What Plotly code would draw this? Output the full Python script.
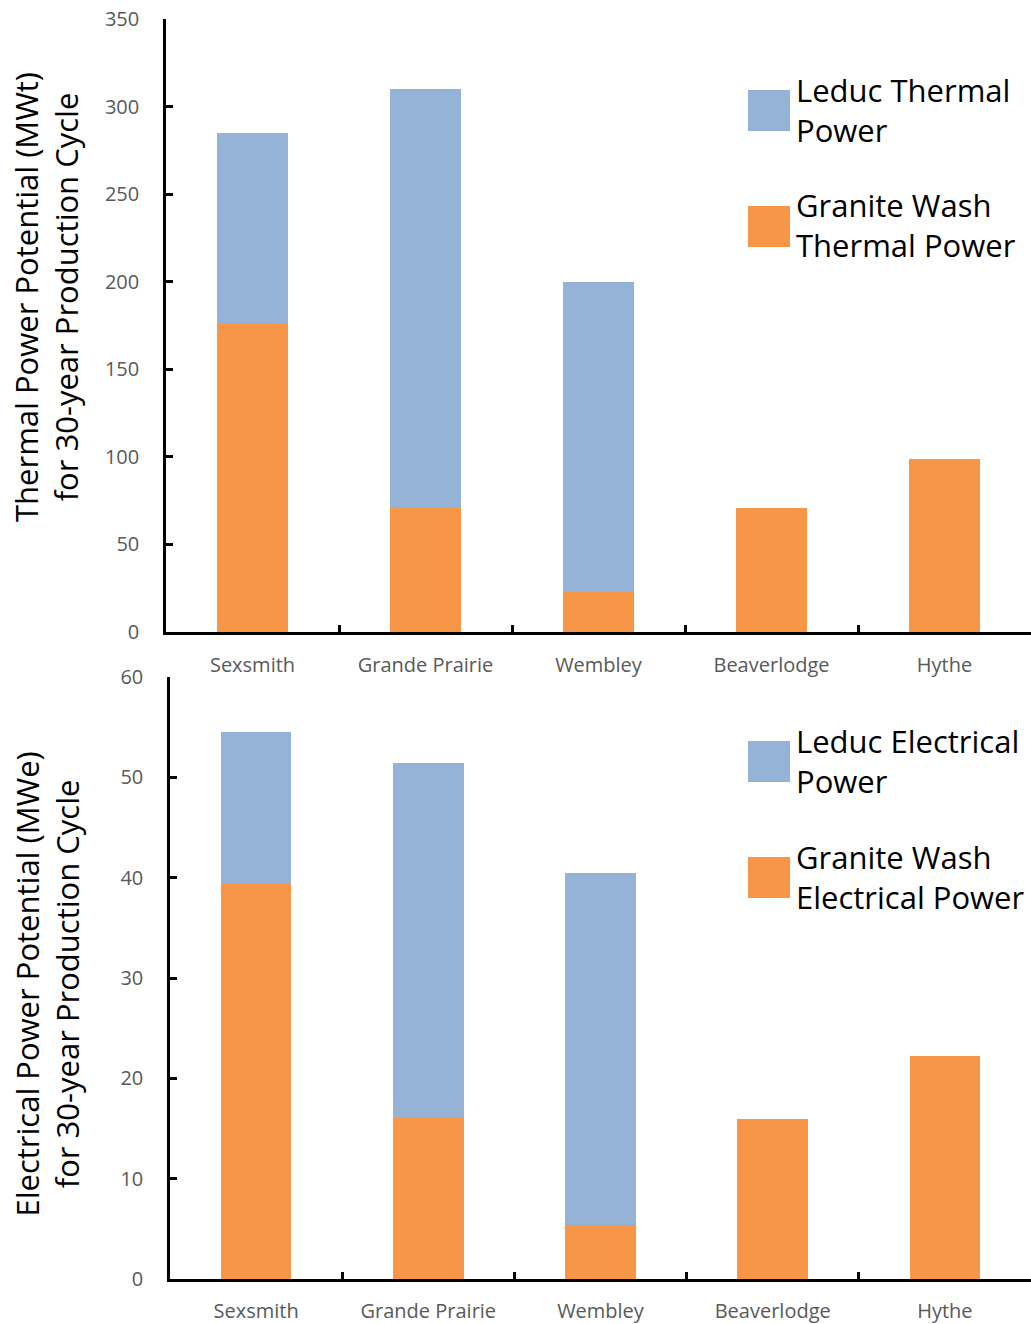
import plotly.graph_objects as go

categories = ["Sexsmith", "Grande Prairie", "Wembley", "Beaverlodge", "Hythe"]
granite_thermal = [176, 71, 23, 71, 99]
leduc_thermal = [109, 239, 177, 0, 0]
granite_electrical = [39.5, 16.0, 5.4, 15.9, 22.2]
leduc_electrical = [15.0, 35.4, 35.1, 0, 0]
thermal_ticks = [0, 50, 100, 150, 200, 250, 300, 350]
electrical_ticks = [0, 10, 20, 30, 40, 50, 60]

BLUE = "#95B3D7"
ORANGE = "#F79646"
FONT = "Open Sans"
W, H = 1031, 1324

fig = go.Figure()
fig.add_trace(go.Bar(x=categories, y=granite_thermal, name="Granite Wash Thermal Power",
                     marker=dict(color=ORANGE, line=dict(width=0)), xaxis="x", yaxis="y"))
fig.add_trace(go.Bar(x=categories, y=leduc_thermal, name="Leduc Thermal Power",
                     marker=dict(color=BLUE, line=dict(width=0)), xaxis="x", yaxis="y"))
fig.add_trace(go.Bar(x=categories, y=granite_electrical, name="Granite Wash Electrical Power",
                     marker=dict(color=ORANGE, line=dict(width=0)), xaxis="x2", yaxis="y2"))
fig.add_trace(go.Bar(x=categories, y=leduc_electrical, name="Leduc Electrical Power",
                     marker=dict(color=BLUE, line=dict(width=0)), xaxis="x2", yaxis="y2"))

def px_x(p):
    return p / W

def px_y(p):
    return 1 - p / H

axis_common = dict(showline=True, linecolor="black", linewidth=2.5, showgrid=False,
                   zeroline=False, ticks="inside", ticklen=7, tickwidth=2.5, tickcolor="black",
                   automargin=False,
                   tickfont=dict(family=FONT, size=20, color="#595959"))

fig.update_layout(
    width=W, height=H, barmode="stack", bargap=0.59, showlegend=False,
    plot_bgcolor="white", paper_bgcolor="white",
    margin=dict(l=0, r=0, t=0, b=0, pad=0),
    font=dict(family=FONT),
    xaxis=dict(domain=[px_x(166), 1], anchor="y", tickson="boundaries",
               ticklabelstandoff=13, **axis_common),
    yaxis=dict(domain=[px_y(632), px_y(19)], anchor="x", range=[0, 350],
               tickvals=thermal_ticks, ticklabelstandoff=20, **axis_common),
    xaxis2=dict(domain=[px_x(170), 1], anchor="y2", tickson="boundaries",
                ticklabelstandoff=12, **axis_common),
    yaxis2=dict(domain=[px_y(1279), px_y(677)], anchor="x2", range=[0, 60],
                tickvals=electrical_ticks, ticklabelstandoff=20, **axis_common),
)

# Axis titles
fig.add_annotation(text="Thermal Power Potential (MWt)<br>for 30-year Production Cycle",
                   x=px_x(46.5), y=px_y(297.5), xref="paper", yref="paper", textangle=-90,
                   showarrow=False, font=dict(family=FONT, size=31, color="black"),
                   xanchor="center", yanchor="middle")
fig.add_annotation(text="Electrical Power Potential (MWe)<br>for 30-year Production Cycle",
                   x=px_x(46.5), y=px_y(984), xref="paper", yref="paper", textangle=-90,
                   showarrow=False, font=dict(family=FONT, size=31, color="black"),
                   xanchor="center", yanchor="middle")

# Legends (drawn as squares + text)
legend_items = [
    ("Leduc Thermal<br>Power", BLUE, 90, 131),
    ("Granite Wash<br>Thermal Power", ORANGE, 206, 247),
    ("Leduc Electrical<br>Power", BLUE, 741, 782),
    ("Granite Wash<br>Electrical Power", ORANGE, 857, 898),
]
for text, color, y0, y1 in legend_items:
    fig.add_shape(type="rect", xref="paper", yref="paper",
                  x0=px_x(748), x1=px_x(790), y0=px_y(y1), y1=px_y(y0),
                  fillcolor=color, line=dict(width=0))
    fig.add_annotation(text=text, x=px_x(794), y=px_y((y0 + y1) / 2 - 1), xref="paper", yref="paper",
                       showarrow=False, xanchor="left", yanchor="middle", align="left",
                       font=dict(family=FONT, size=31, color="black"))

fig.write_html("out.html", config={"displayModeBar": False},
               post_script="document.body.style.margin='0';document.body.style.overflow='hidden';")
